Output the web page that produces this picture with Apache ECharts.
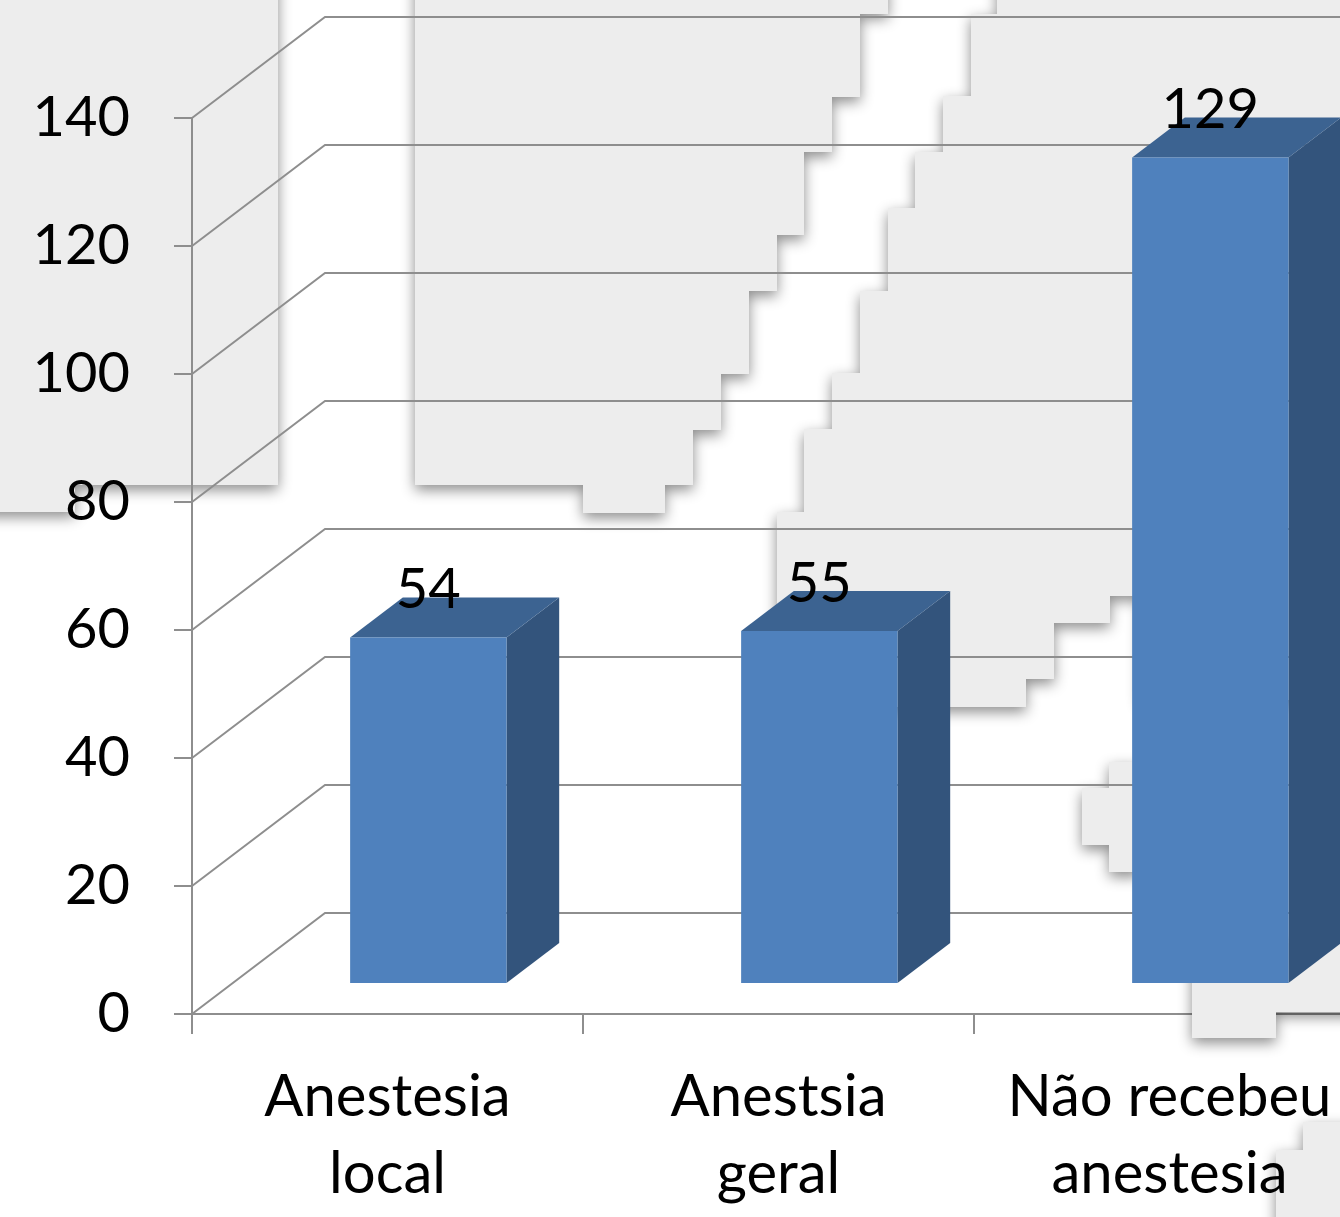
<!DOCTYPE html>
<html><head><meta charset="utf-8">
<script src="https://cdn.jsdelivr.net/npm/echarts@6/dist/echarts.min.js"></script>
<style>html,body{margin:0;padding:0;background:#fff;overflow:hidden}#c{width:1400px;height:1217px}</style>
</head><body><div id="c"></div>
<script>
// ---- data ----
const categories = ['Anestesia\nlocal', 'Anestsia\ngeral', 'Não recebeu\nanestesia'];
const values = [54, 55, 129];
const yTicks = [0, 20, 40, 60, 80, 100, 120, 140];
const yMin = 0, yMax = 140, yStep = 20;

// ---- 3D look constants ----
const DEPTH = [133, -101];
const BAR_F0 = 0.307, BAR_F1 = 0.703, BAR_W = 0.40;
const LINE = '#8E8E8E';
const FONT = 'Lato';

const chart = echarts.init(document.getElementById('c'), null, {renderer: 'canvas'});

const greyStyle = {
  fill: '#EDEDED', shadowBlur: 14, shadowColor: 'rgba(0,0,0,0.45)',
  shadowOffsetX: 0, shadowOffsetY: 5
};
function poly(points, z) {
  return {type: 'polygon', z: z, silent: true, shape: {points: points}, style: greyStyle};
}
const deco = [
  poly([[-30,-30],[278,-30],[278,485],[75,485],[75,512],[-30,512]], 0),
  poly([[415,-30],[888,-30],[888,14],[860,14],[860,97],[832,97],[832,152],[804,152],[804,235],[777,235],
        [777,291],[749,291],[749,374],[721,374],[721,430],[693,430],[693,485],[665,485],[665,513],
        [583,513],[583,485],[415,485]], 0),
  poly([[997,-30],[1420,-30],[1420,700],[1140,700],[1140,596],[1110,596],[1110,623],[1054,623],[1054,679],
        [1026,679],[1026,707],[777,707],[777,512],[804,512],[804,429],[832,429],[832,373],[860,373],
        [860,291],[888,291],[888,208],[915,208],[915,152],[943,152],[943,96],[971,96],[971,14],[997,14]], 0),
  poly([[1109,762],[1140,762],[1140,872],[1109,872],[1109,845],[1082,845],[1082,788],[1109,788]], 0),
  poly([[1192,940],[1420,940],[1420,1012],[1276,1012],[1276,1038],[1192,1038]], 3),
  poly([[1303,1122],[1420,1122],[1420,1240],[1276,1240],[1276,1150],[1303,1150]], 0)
];

const option = {
  backgroundColor: '#ffffff',
  animation: false,
  graphic: deco,
  grid: {left: 192, top: 118, width: 1173, height: 896},
  xAxis: {
    type: 'category', data: categories, z: 2,
    axisLine: {show: true, lineStyle: {color: LINE, width: 2}},
    axisTick: {show: true, length: 20, alignWithLabel: false, lineStyle: {color: LINE, width: 2}},
    axisLabel: {interval: 0, fontFamily: FONT, fontSize: 58, lineHeight: 77, color: '#000', margin: 45, hideOverlap: false},
    splitLine: {show: false}
  },
  yAxis: {
    type: 'value', min: yMin, max: yMax, interval: yStep, z: 2,
    axisLine: {show: true, lineStyle: {color: LINE, width: 2}},
    axisTick: {show: true, length: 18, lineStyle: {color: LINE, width: 2}},
    axisLabel: {fontFamily: FONT, fontSize: 56, color: '#000', margin: 62,
      formatter: function (v) { return yTicks.indexOf(v) >= 0 ? String(v) : ''; }},
    splitLine: {show: false}
  },
  series: [
    {
      type: 'custom', z: 1, silent: true,
      data: yTicks.map(v => [0, v]),
      encode: {x: 0, y: 1},
      renderItem: function (params, api) {
        const cs = params.coordSys;
        const y = api.coord([0, api.value(1)])[1];
        const x0 = cs.x;
        return {
          type: 'polyline',
          shape: {points: [[x0, y], [x0 + DEPTH[0], y + DEPTH[1]], [x0 + cs.width + DEPTH[0] + 50, y + DEPTH[1]]]},
          style: {stroke: LINE, lineWidth: 2, fill: null}
        };
      }
    },
    {
      type: 'custom', z: 4, silent: true,
      data: values.map((v, i) => [i, v]),
      encode: {x: 0, y: 1},
      renderItem: function (params, api) {
        const i = api.value(0), v = api.value(1);
        const top = api.coord([i, v]);
        const base = api.coord([i, 0]);
        const band = api.size([1, 0])[0];
        const w = band * BAR_W;
        const fx = DEPTH[0] * BAR_F0, fy = DEPTH[1] * BAR_F0;
        const bx = DEPTH[0] * BAR_F1, by = DEPTH[1] * BAR_F1;
        const xl = top[0] - w / 2, xr = top[0] + w / 2;
        return {
          type: 'group',
          children: [
            {type: 'polygon', shape: {points: [[xr + fx, top[1] + fy], [xr + bx, top[1] + by], [xr + bx, base[1] + by], [xr + fx, base[1] + fy]]},
             style: {fill: '#33547C'}},
            {type: 'polygon', shape: {points: [[xl + fx, top[1] + fy], [xr + fx, top[1] + fy], [xr + bx, top[1] + by], [xl + bx, top[1] + by]]},
             style: {fill: '#3C6391'}},
            {type: 'rect', shape: {x: xl + fx, y: top[1] + fy, width: w, height: base[1] - top[1]},
             style: {fill: '#4F81BD'}},
            {type: 'text', z2: 10, style: {text: String(v), x: top[0] + fx, y: top[1] + by - 7,
              align: 'center', verticalAlign: 'middle', fontFamily: FONT, fontSize: 56, fill: '#000'}}
          ]
        };
      }
    }
  ]
};
chart.setOption(option);
</script></body></html>
